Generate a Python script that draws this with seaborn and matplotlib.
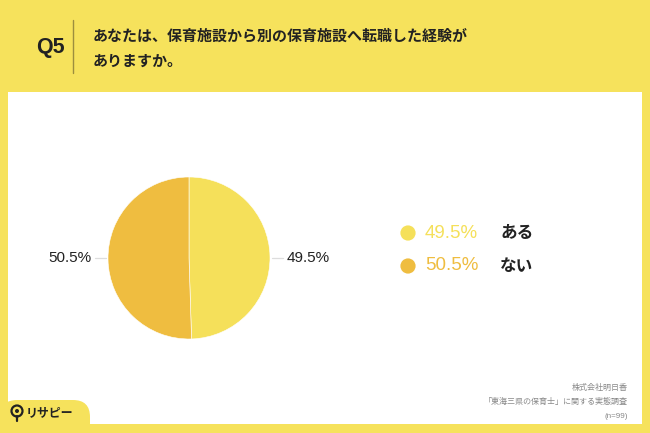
import numpy as np
import pandas as pd
import seaborn as sns
import matplotlib
matplotlib.use("Agg")
import matplotlib.pyplot as plt
from matplotlib.patches import Rectangle, FancyBboxPatch, Circle

# ---- data ----
categories = ["ある", "ない"]
values = [49.5, 50.5]
value_labels = ["49.5%", "50.5%"]
colors = ["#F5E05A", "#EFBD40"]
question = "Q5"
title_lines = ["あなたは、保育施設から別の保育施設へ転職した経験が", "ありますか。"]
footer_lines = ["株式会社明日香", "「東海三県の保育士」に関する実態調査", "(n=99)"]
brand = "リサピー"

sns.set_theme(style="white")
FONT = ["Liberation Sans", "Noto Sans CJK JP", "DejaVu Sans"]
plt.rcParams["font.family"] = FONT

W, H, DPI = 650, 433, 100
fig = plt.figure(figsize=(W / DPI, H / DPI), dpi=DPI)
BG = "#F6E25C"
fig.patch.set_facecolor(BG)
T = fig.dpi_scale_trans


def px(x, y):
    return x / DPI, (H - y) / DPI


# white panel
x0, y0 = px(8, 424)
fig.patches.append(Rectangle((x0, y0), (642 - 8) / DPI, (424 - 92) / DPI,
                             transform=T, facecolor="white", edgecolor="none", zorder=-5))

# header
fig.text(*px(50, 48), question, transform=T, ha="center", va="center",
         fontsize=15.5, fontweight="bold", color="#222222")
fig.add_artist(plt.Line2D([73 / DPI, 73 / DPI], [(H - 20) / DPI, (H - 73) / DPI],
                          transform=T, color="#9C8E3E", lw=1))
for i, line in enumerate(title_lines):
    fig.text(*px(93, 36 + 26 * i), line, transform=T, ha="left", va="center",
             fontsize=10.8, fontweight="bold", color="#222222")

# pie
cx, cy, r = 189, 258, 81
half = 100
ax = fig.add_axes([(cx - half) / W, (H - cy - half) / H, 2 * half / W, 2 * half / H])
ax.set_zorder(2)
ax.patch.set_alpha(0)
lim = half / r
wedges, _ = ax.pie(values, colors=colors, startangle=90, counterclock=False,
                   radius=1, wedgeprops=dict(edgecolor="white", linewidth=0.4))
ax.set_xlim(-lim, lim)
ax.set_ylim(-lim, lim)
ax.set_aspect("equal")
ax.axis("off")
for w, lab in zip(wedges, value_labels):
    ang = np.deg2rad((w.theta1 + w.theta2) / 2)
    dx, dy = np.cos(ang), np.sin(ang)
    side = 1 if dx >= 0 else -1
    ax.plot([side * 1.03, side * 1.16], [dy * 0.02, dy * 0.02], color="#DDDDDD", lw=0.9)
    ax.text(side * 1.21, dy * 0.02, lab, ha="left" if side > 0 else "right", va="center",
            fontsize=11, color="#222222")

# legend via seaborn
lax = fig.add_axes([0, 0, 1, 1])
lax.set_zorder(2)
lax.patch.set_alpha(0)
leg_df = pd.DataFrame({"x": [408] * len(categories),
                       "y": [233 + 33 * i for i in range(len(categories))],
                       "cat": categories})
sns.scatterplot(data=leg_df, x="x", y="y", hue="cat", palette=colors, s=120,
                edgecolor="none", legend=False, ax=lax)
lax.set_xlim(0, W)
lax.set_ylim(H, 0)
lax.axis("off")
for i, (cat, lab, col) in enumerate(zip(categories, value_labels, colors)):
    yy = 233 + 33 * i
    lax.text(425, yy, lab, ha="left", va="center", fontsize=13.5, color=col)
    lax.text(500, yy, cat, ha="left", va="center", fontsize=12,
             fontweight="bold", color="#222222")

# footer
for i, line in enumerate(footer_lines):
    fig.text(*px(628, 388 + 14 * i), line, transform=T, ha="right", va="center",
             fontsize=5.8, color="#888888")

# brand tab
fig.patches.append(FancyBboxPatch(px(0, 440), 90 / DPI, 40 / DPI,
                                  boxstyle="round,pad=0,rounding_size=0.17",
                                  transform=T, facecolor=BG, edgecolor="none", zorder=1))
fig.patches.append(Rectangle(px(0, 433), W / DPI, 9 / DPI, transform=T,
                             facecolor=BG, edgecolor="none", zorder=1))
fig.patches.append(Circle(px(17, 411), 5.5 / DPI, transform=T, facecolor="none",
                          edgecolor="#222222", lw=1.6, zorder=3))
fig.patches.append(Circle(px(17, 411), 2 / DPI, transform=T, facecolor="#222222",
                          edgecolor="none", zorder=3))
fig.add_artist(plt.Line2D([17 / DPI, 17 / DPI], [(H - 416) / DPI, (H - 421) / DPI],
                          transform=T, color="#222222", lw=1.6, zorder=3))
fig.text(*px(26, 413), brand, transform=T, ha="left", va="center",
         fontsize=8.6, fontweight="bold", color="#222222", zorder=4)

fig.savefig("out.png", dpi=DPI, facecolor=fig.get_facecolor())
